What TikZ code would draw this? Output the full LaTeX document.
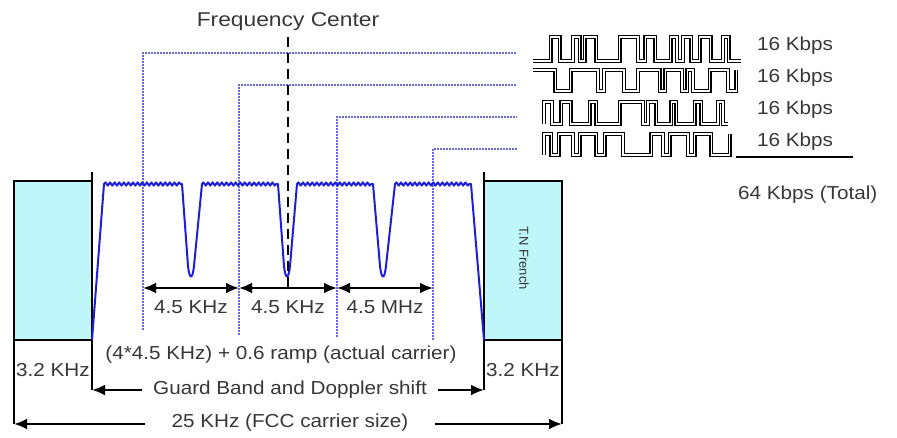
\documentclass[tikz,border=0pt]{standalone}
\usepackage{fontspec}
\setmainfont{Liberation Sans}
\newfontfamily\widesans[FakeStretch=1.1]{Liberation Sans}
\newfontfamily\widerSans[FakeStretch=1.14]{Liberation Sans}
\usetikzlibrary{arrows.meta,decorations.pathmorphing}
\definecolor{cyanfill}{RGB}{191,246,250}
\definecolor{specblue}{RGB}{30,30,215}
\definecolor{dotblue}{RGB}{105,105,225}
\definecolor{txt}{RGB}{55,55,55}
% #1 x0, #2 start y, #3 other y, #4 transition x list, #5 tail
\newcommand{\sigwave}[5]{\draw[sig] (#1,#2) \foreach \t [count=\i] in {#4} { -| (\t,{#2+(#3-#2)*mod(\i,2)}) } #5;}
\begin{document}
\begin{tikzpicture}[x=1pt,y=-1pt,
  box/.style={draw=black,line width=2.2pt},
  lbl/.style={text=txt,font=\widesans\fontsize{18.8}{22}\selectfont,inner sep=0pt},
  small/.style={text=txt,font=\fontsize{13}{15}\selectfont,inner sep=0pt},
  dimarrow/.style={line width=2.3pt,{Latex[length=13pt,width=11pt]}-{Latex[length=13pt,width=11pt]}},
  dotl/.style={dotblue,line width=1.6pt,dash pattern=on 1.6pt off 1.4pt},
  spec/.style={specblue,line width=2pt,line join=round},
  ripple/.style={decoration={snake,amplitude=1.6pt,segment length=4.6pt}},
  sig/.style={draw=black,double=white,double distance=1.2pt,line width=1.35pt,line join=miter},
  fcline/.style={line width=2.5pt,dash pattern=on 10pt off 6pt}]
\useasboundingbox (0,0) rectangle (897,437);

% side boxes
\fill[cyanfill] (14,181) rectangle (92,340);
\fill[cyanfill] (484,181) rectangle (562,340);
\coordinate (lbTop) at (92,172);
\coordinate (lbBot) at (92,390);
\coordinate (rbTop) at (484,172);
\coordinate (rbBot) at (484,390);
\coordinate (llBot) at (14,424);
\coordinate (rrBot) at (562,424);
\draw[box] (llBot) -- (14,181) -- (92,181);
\draw[box] (lbTop) -- (lbBot);
\draw[box] (14,340) -- (92,340);
\draw[box] (rbTop) -- (rbBot);
\draw[box] (484,181) -- (562,181) -- (rrBot);
\draw[box] (484,340) -- (562,340);
\node[small,rotate=-90] (tn) at (524,258) {T.N French};

% dotted guide lines
\coordinate (d1) at (517,53);
\coordinate (d2) at (517,85);
\coordinate (d3) at (517,117);
\coordinate (d4) at (517,149);
\draw[dotl] (143,330) |- (d1);
\draw[dotl] (239,335) |- (d2);
\draw[dotl] (337,337) |- (d3);
\draw[dotl] (433,340) |- (d4);

% spectrum
\draw[spec] (92,340) -- (104,184)
  decorate[ripple] { -- (182,184) }
  -- (188,266) .. controls (189.5,280) and (192.5,280) .. (194,266) -- (202,184)
  decorate[ripple] { -- (278,184) }
  -- (284,266) .. controls (285.5,280) and (288.5,280) .. (290,266) -- (297,184)
  decorate[ripple] { -- (373,184) }
  -- (380,266) .. controls (381.5,280) and (384.5,280) .. (386,266) -- (395,184)
  decorate[ripple] { -- (471,184) }
  -- (484,340);

% frequency center
\node[lbl,font=\widerSans\fontsize{20}{24}\selectfont] (fc) at (288,22) {Frequency Center};
\coordinate (fcTop) at (288,37);
\coordinate (m2) at (239,288);
\coordinate (m1) at (143,288);
\coordinate (m3) at (337,288);
\coordinate (m4) at (433,288);
\draw[fcline] (fcTop) -- (288,288);

% 4.5 arrows
\draw[dimarrow] (m1) -- (m2);
\draw[dimarrow] (m2) -- (m3);
\draw[dimarrow] (m3) -- (m4);
\node[lbl] (a1) at (191,307) {4.5 KHz};
\node[lbl] (a2) at (288,307) {4.5 KHz};
\node[lbl] (a3) at (385,307) {4.5 MHz};

% bottom labels
\node[lbl] (act) at (281,355) {(4*4.5 KHz) + 0.6 ramp (actual carrier)};
\node[lbl] (t32l) at (53,370) {3.2 KHz};
\node[lbl] (t32r) at (523,370) {3.2 KHz};
\draw[dimarrow] (lbBot) -- (rbBot);
\node[lbl,fill=white,inner xsep=11pt,inner ysep=3pt] (gb) at (290,390) {Guard Band and Doppler shift};
\draw[dimarrow] (llBot) -- (rrBot);
\node[lbl,fill=white,inner xsep=27pt,inner ysep=3pt] (fcc) at (290,423) {25 KHz (FCC carrier size)};

% digital signals
\sigwave{533}{61}{37}{550.7,559.7,573,579.7,584.7,596.3,619.7,638,645.3,655.3,670.7,677,683,691.3,699.7,710.7,723,728.7}{-- (741.3,61)}
\sigwave{533}{70}{91}{555.3,570.7,598,604,624,638,659.7,665.3,682,687.3,693,709.7,728,736.3}{}
\sigwave{544}{124}{102}{544,552,561.3,570.7,589.7,596.3,619.7,643,648,656.3,671.3,676.3,694.7,701.3,718,723}{-- (728,124)}
\sigwave{544}{155}{134}{544,551.3,558.7,573,579.7,596.3,604.7,623,651.3,663,669.7,688,694.7,711.3,729.7}{}
\node[lbl,anchor=west] (k1) at (757,46) {16 Kbps};
\node[lbl,anchor=west] (k2) at (757,78) {16 Kbps};
\node[lbl,anchor=west] (k3) at (757,110) {16 Kbps};
\node[lbl,anchor=west] (k4) at (757,142) {16 Kbps};
\coordinate (sumL) at (736,157);
\coordinate (sumR) at (853,157);
\draw[line width=1.6pt] (sumL) -- (sumR);
\node[lbl,anchor=west] (tot) at (738,195) {64 Kbps (Total)};
\end{tikzpicture}
\end{document}
